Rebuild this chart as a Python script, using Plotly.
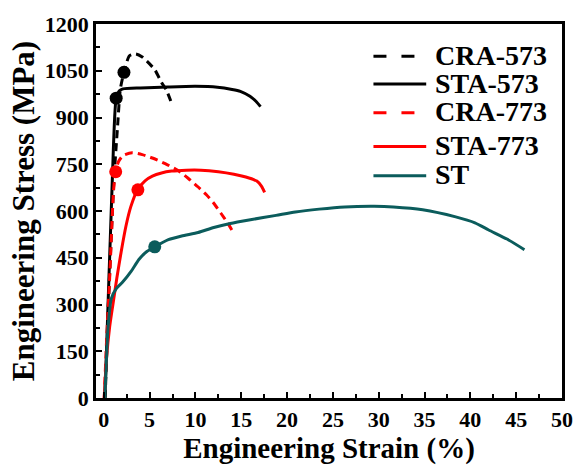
import plotly.graph_objects as go

# ---- data ----
cra573_x = [0.15, 0.5, 1.1, 1.5, 1.8, 2.2, 2.8, 3.5, 4.2, 5.0, 5.6, 6.3, 6.8, 7.35]
cra573_y = [0, 300, 697, 870, 990, 1045, 1098, 1104, 1094, 1072, 1052, 1012, 990, 950]

sta573_x = [0.1, 0.2, 0.93, 1.35, 1.7, 2.1, 4.0, 7.0, 10.0, 12.4, 14.0, 14.9, 15.95, 16.6, 17.1]
sta573_y = [0, 68, 700, 962, 986, 992, 995, 998, 1000, 997, 990, 984, 968, 952, 935]

cra773_x = [0.05, 0.29, 0.64, 1.07, 1.3, 1.6, 2.1, 3.1, 4.2, 5.3, 6.7, 8.1, 9.2, 10.3, 11.2, 12.0, 12.8, 13.5, 14.1]
cra773_y = [0, 175, 385, 668, 726, 758, 778, 787, 781, 770, 752, 730, 705, 677, 652, 625, 592, 562, 533]

sta773_x = [0.05, 0.29, 0.64, 1.0, 1.42, 1.89, 2.42, 2.95, 3.7, 4.5, 5.3, 6.3, 7.4, 9.0, 10.6, 12.5, 14.2, 15.5, 16.7, 17.2, 17.55]
sta773_y = [0, 124, 228, 301, 384, 468, 552, 614, 669, 697, 712, 722, 728, 731, 731, 726, 718, 709, 696, 680, 660]

st_x = [0.1, 0.21, 0.46, 0.82, 1.36, 2.06, 3.0, 3.85, 4.7, 5.56, 7.05, 8.5, 10.3, 12.0, 13.8, 16.0, 18.8, 20.9, 23.5, 26.3, 29.5, 31.6, 34.8, 38.4, 40.5, 42.0, 44.0, 45.9]
st_y = [0, 68, 225, 319, 351, 372, 407, 445, 470, 485, 508, 520, 531, 547, 560, 572, 586, 597, 606, 613, 615, 613, 604, 581, 562, 539, 510, 476]

# yield-point markers
mark_x = [2.2, 1.35, 1.3, 3.72, 5.56]
mark_y = [1045, 962, 726, 668, 485]
mark_colors = ["black", "black", "red", "red", "#0b5c5c"]

names = ["CRA-573", "STA-573", "CRA-773", "STA-773", "ST"]
colors = ["black", "black", "red", "red", "#0b5c5c"]
dashes = ["8px,5px", "solid", "8px,5px", "solid", "solid"]

x_ticks = [0, 5, 10, 15, 20, 25, 30, 35, 40, 45, 50]
y_ticks = [0, 150, 300, 450, 600, 750, 900, 1050, 1200]

series = [(cra573_x, cra573_y), (sta573_x, sta573_y), (cra773_x, cra773_y),
          (sta773_x, sta773_y), (st_x, st_y)]

FONT = "Liberation Serif"

# plot-area geometry (px) used to place the hand-drawn legend
W, H = 585, 469
ML, MR, MT, MB = 96, 12, 19, 67
PW, PH = W - ML - MR, H - MT - MB


def px_x(p):
    return (p - ML) / PW


def px_y(p):
    return (H - MB - p) / PH


legend_rows = [51, 79.5, 109, 143.5, 173.5]

fig = go.Figure()
for (xs, ys), n, c, d in zip(series, names, colors, dashes):
    fig.add_trace(go.Scatter(x=xs, y=ys, mode="lines", name=n, showlegend=False,
                             line=dict(color=c, width=3, dash=d, shape="spline", smoothing=0.6)))

fig.add_trace(go.Scatter(x=mark_x, y=mark_y, mode="markers", showlegend=False,
                         marker=dict(size=13, color=mark_colors)))

# legend (line samples + labels)
for n, c, d, ry in zip(names, colors, dashes, legend_rows):
    fig.add_shape(type="line", xref="paper", yref="paper",
                  x0=px_x(380), x1=px_x(434), y0=px_y(ry + 1), y1=px_y(ry + 1),
                  line=dict(color=c, width=3, dash="13px,15px" if d != "solid" else "solid"))
    fig.add_annotation(xref="paper", yref="paper", x=px_x(441), y=px_y(ry),
                       xanchor="left", yanchor="middle", showarrow=False, text=n,
                       font=dict(family=FONT, size=28, color="black", weight="bold"))

axis_common = dict(
    showgrid=False, zeroline=False, showline=True, linecolor="black", linewidth=2.5,
    mirror=True, ticks="inside", ticklen=6, tickwidth=2, tickcolor="black",
    tickfont=dict(family=FONT, size=22, color="black", weight="bold"),
)

fig.update_xaxes(
    range=[-0.85, 50], tickvals=x_ticks, ticktext=[str(v) for v in x_ticks],
    minor=dict(ticks="inside", ticklen=4, tickwidth=2, tickcolor="black", dtick=2.5, tick0=0),
    title=dict(text="Engineering Strain (%)", font=dict(family=FONT, size=29, color="black", weight="bold"), standoff=5),
    **axis_common,
)
fig.update_yaxes(
    range=[0, 1200], tickvals=y_ticks, ticktext=[str(v) for v in y_ticks],
    minor=dict(ticks="inside", ticklen=4, tickwidth=2, tickcolor="black", dtick=75, tick0=0),
    title=dict(text="Engineering Stress (MPa)", font=dict(family=FONT, size=31, color="black", weight="bold"), standoff=1),
    **axis_common,
)

fig.update_layout(
    width=W, height=H,
    margin=dict(l=ML, r=MR, t=MT, b=MB),
    paper_bgcolor="white", plot_bgcolor="white",
    showlegend=False,
)

fig.write_html("out.html")
